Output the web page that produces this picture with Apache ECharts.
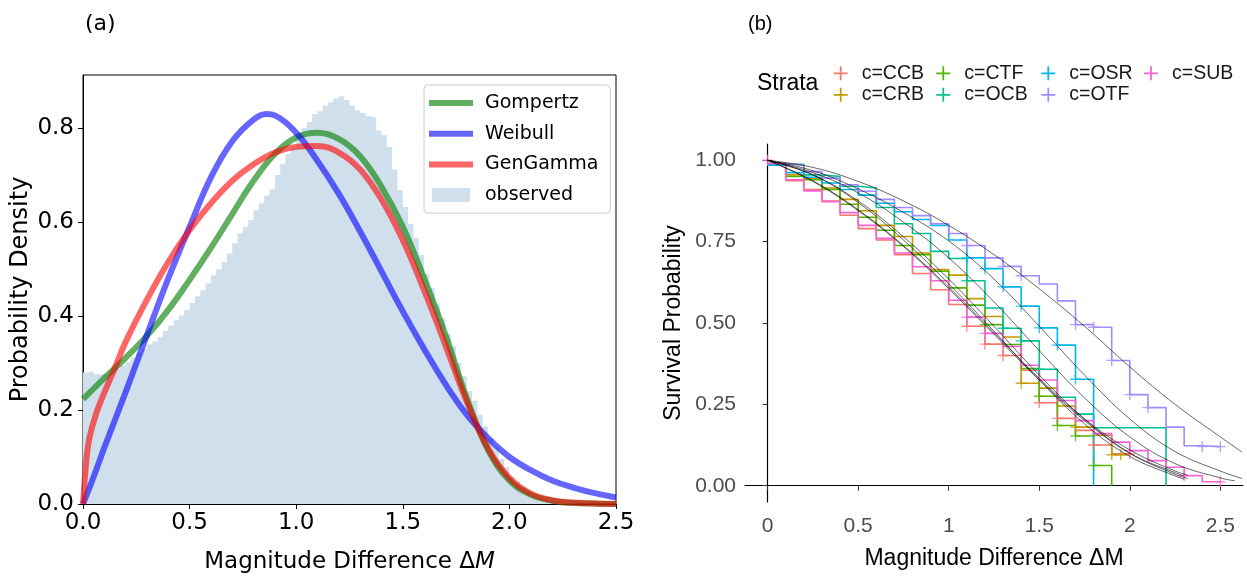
<!DOCTYPE html>
<html><head><meta charset="utf-8">
<script src="https://cdn.jsdelivr.net/npm/echarts@6/dist/echarts.min.js"></script>
<style>html,body{margin:0;padding:0;background:#fff}#c{width:1247px;height:579px}</style>
</head><body><div id="c"></div>
<script>
// ================= Panel (a) data =================
const histBinWidth = 0.025;
const histDensity = [
0.280,0.283,0.276,0.276,0.278,0.282,0.288,0.295,0.303,0.312,
0.322,0.330,0.340,0.346,0.355,0.368,0.380,0.391,0.401,0.413,
0.428,0.442,0.455,0.470,0.487,0.499,0.515,0.533,0.555,0.576,
0.590,0.604,0.625,0.640,0.656,0.670,0.700,0.724,0.745,0.760,
0.782,0.800,0.813,0.830,0.836,0.848,0.855,0.863,0.868,0.860,
0.848,0.838,0.832,0.826,0.822,0.795,0.785,0.760,0.712,0.668,
0.632,0.596,0.566,0.530,0.490,0.460,0.425,0.395,0.362,0.335,
0.300,0.272,0.240,0.220,0.190,0.165,0.140,0.120,0.095,0.078,
0.058,0.048,0.035,0.026,0.018,0.012,0.008,0.005,0.003,0.002,
0.001,0.001,0,0,0,0,0,0,0,0];
const gompertzCurve = [[0,0.223],[0.1,0.268],[0.2,0.311],[0.3,0.358],[0.4,0.413],[0.5,0.477],[0.6,0.545],[0.7,0.617],[0.8,0.688],[0.9,0.745],[1.0,0.78],[1.1,0.79],[1.2,0.777],[1.3,0.74],[1.4,0.675],[1.5,0.59],[1.6,0.48],[1.7,0.36],[1.8,0.225],[1.9,0.115],[2.0,0.05],[2.1,0.02],[2.2,0.007],[2.3,0.002],[2.4,0.001],[2.5,0]];
const weibullCurve = [[0,0],[0.05,0.058],[0.1,0.12],[0.2,0.238],[0.3,0.36],[0.4,0.48],[0.5,0.59],[0.6,0.695],[0.7,0.772],[0.8,0.818],[0.86,0.83],[0.9,0.827],[1.0,0.79],[1.1,0.73],[1.2,0.66],[1.3,0.58],[1.4,0.495],[1.5,0.41],[1.6,0.33],[1.7,0.255],[1.8,0.19],[1.9,0.14],[2.0,0.1],[2.1,0.072],[2.2,0.05],[2.3,0.035],[2.4,0.023],[2.5,0.014]];
const genGammaCurve = [[0,0],[0.015,0.09],[0.03,0.14],[0.06,0.19],[0.1,0.237],[0.15,0.29],[0.2,0.345],[0.3,0.435],[0.4,0.515],[0.5,0.583],[0.6,0.64],[0.7,0.688],[0.8,0.723],[0.9,0.748],[1.0,0.76],[1.1,0.762],[1.2,0.748],[1.3,0.712],[1.4,0.648],[1.5,0.562],[1.6,0.455],[1.7,0.338],[1.8,0.218],[1.9,0.118],[2.0,0.055],[2.1,0.022],[2.2,0.008],[2.3,0.003],[2.4,0.001],[2.5,0]];
const aXTicks = [0,0.5,1.0,1.5,2.0,2.5];
const aYTicks = [0,0.2,0.4,0.6,0.8];

// ================= Panel (b) data =================
const strata = ['c=CCB','c=CRB','c=CTF','c=OCB','c=OSR','c=OTF','c=SUB'];
const kmTimes = [0,0.1,0.2,0.3,0.4,0.5,0.6,0.7,0.8,0.9,1.0,1.1,1.2,1.3,1.4,1.5,1.6,1.7,1.8,1.9,2.0,2.1,2.2,2.3,2.4,2.5];
const kmCCB = [0.985,0.937,0.91,0.875,0.831,0.79,0.755,0.71,0.652,0.602,0.557,0.49,0.435,0.40,0.355,0.255,0.207,0.17,0.125,0.098,0.098];
const kmCRB = [0.99,0.955,0.945,0.915,0.88,0.845,0.80,0.766,0.715,0.664,0.647,0.575,0.52,0.457,0.315,0.30,0.245,0.18,0.155,0.095,0.095];
const kmCTF = [0.99,0.95,0.94,0.91,0.865,0.825,0.785,0.738,0.71,0.659,0.608,0.555,0.495,0.434,0.36,0.275,0.185,0.153,0.062,0];
const kmOCB = [0.988,0.988,0.955,0.95,0.92,0.915,0.855,0.805,0.775,0.72,0.698,0.63,0.546,0.484,0.445,0.358,0.272,0.22,0.178,0.178,0.178,0.178,0];
const kmOSR = [0.985,0.962,0.948,0.93,0.91,0.893,0.868,0.842,0.818,0.80,0.755,0.70,0.667,0.611,0.552,0.485,0.432,0.327,0];
const kmOTF = [0.99,0.985,0.965,0.945,0.925,0.905,0.88,0.855,0.83,0.805,0.775,0.738,0.70,0.674,0.645,0.62,0.568,0.495,0.487,0.385,0.28,0.24,0.18,0.123,0.12,0.12];
const kmSUB = [0.99,0.94,0.906,0.873,0.839,0.80,0.76,0.715,0.673,0.63,0.57,0.518,0.468,0.428,0.37,0.325,0.262,0.20,0.16,0.134,0.108,0.077,0.057,0.031,0.012,0.012];

const censCCB = [[1.1,0.49],[1.2,0.435],[1.3,0.40],[1.5,0.255],[1.6,0.207],[1.8,0.125],[2.0,0.098]];
const censCRB = [[1.4,0.315],[1.7,0.18],[1.9,0.095],[1.95,0.095]];
const censCTF = [[1.2,0.495],[1.5,0.275],[1.6,0.185],[1.7,0.153],[1.8,0.062]];
const censOCB = [[1.1,0.63],[1.3,0.484],[1.4,0.445],[1.5,0.358]];
const censOSR = [[1.1,0.70],[1.2,0.667],[1.3,0.611],[1.4,0.552],[1.5,0.485],[1.6,0.432],[1.7,0.327]];
const censOTF = [[1.1,0.738],[1.3,0.674],[1.4,0.645],[1.7,0.495],[1.8,0.487],[1.9,0.385],[2.0,0.28],[2.1,0.24],[2.4,0.12],[2.5,0.12]];
const censSUB = [[0,1.0],[1.1,0.518],[1.2,0.468],[2.0,0.108],[2.3,0.031],[2.5,0.012]];

const fitCCB = [[0,1],[0.25,0.935],[0.5,0.845],[0.75,0.735],[1.0,0.605],[1.25,0.465],[1.5,0.325],[1.75,0.2],[2.0,0.1],[2.25,0.04],[2.3,0.03]];
const fitCRB = [[0,1],[0.25,0.955],[0.5,0.875],[0.75,0.765],[1.0,0.635],[1.25,0.49],[1.5,0.34],[1.75,0.205],[2.0,0.1],[2.25,0.035],[2.32,0.022]];
const fitCTF = [[0,1],[0.25,0.955],[0.5,0.87],[0.75,0.755],[1.0,0.62],[1.25,0.475],[1.5,0.325],[1.75,0.19],[2.0,0.09],[2.25,0.03],[2.3,0.02]];
const fitOCB = [[0,1],[0.25,0.962],[0.5,0.9],[0.75,0.81],[1.0,0.70],[1.25,0.565],[1.5,0.415],[1.75,0.27],[2.0,0.15],[2.25,0.068],[2.5,0.024],[2.58,0.015]];
const fitOSR = [[0,1],[0.25,0.968],[0.5,0.912],[0.75,0.84],[1.0,0.752],[1.25,0.635],[1.5,0.49],[1.75,0.34],[2.0,0.205],[2.25,0.105],[2.5,0.045],[2.62,0.022]];
const fitOTF = [[0,1],[0.25,0.978],[0.5,0.935],[0.75,0.875],[1.0,0.80],[1.25,0.71],[1.5,0.605],[1.75,0.49],[2.0,0.365],[2.25,0.25],[2.5,0.15],[2.62,0.103]];
const fitSUB = [[0,1],[0.25,0.937],[0.5,0.848],[0.75,0.738],[1.0,0.61],[1.25,0.47],[1.5,0.33],[1.75,0.205],[2.0,0.11],[2.25,0.045],[2.32,0.033]];
const bXTicks = [0,0.5,1,1.5,2,2.5];
const bYTicks = [0,0.25,0.5,0.75,1];

// ================= build =================
const strataColors = ['#F8766D','#C49A00','#53B400','#00C094','#00B6EB','#A58AFF','#FB61D7'];
const kmAll = [kmCCB,kmCRB,kmCTF,kmOCB,kmOSR,kmOTF,kmSUB];
const censAll = [censCCB,censCRB,censCTF,censOCB,censOSR,censOTF,censSUB];
const fitAll = [fitCCB,fitCRB,fitCTF,fitOCB,fitOSR,fitOTF,fitSUB];
const plusPath = 'path://M7,0h2v16h-2z M0,7h16v2h-16z';

const histData = histDensity.map((v,i)=>[+(i*histBinWidth).toFixed(3), v]);
histData.push([+(histDensity.length*histBinWidth).toFixed(3), histDensity[histDensity.length-1]]);

const FA = 'DejaVu Sans';
const FB = 'Liberation Sans';
const series = [];
series.push({name:'observed', type:'line', xAxisIndex:0, yAxisIndex:0, step:'end', data:histData,
  symbol:'none', color:'#cfdfeb', lineStyle:{width:0}, areaStyle:{color:'#cfdfeb', opacity:1}, z:1, silent:true});
series.push({name:'Gompertz', type:'line', xAxisIndex:0, yAxisIndex:0, smooth:0.4, data:gompertzCurve,
  symbol:'none', color:'rgba(0,128,0,0.62)', lineStyle:{width:6, color:'rgba(0,128,0,0.62)'}, z:2});
series.push({name:'Weibull', type:'line', xAxisIndex:0, yAxisIndex:0, smooth:0.4, data:weibullCurve,
  symbol:'none', color:'rgba(0,0,255,0.6)', lineStyle:{width:6, color:'rgba(0,0,255,0.6)'}, z:3});
series.push({name:'GenGamma', type:'line', xAxisIndex:0, yAxisIndex:0, smooth:0.4, data:genGammaCurve,
  symbol:'none', color:'rgba(255,0,0,0.6)', lineStyle:{width:6, color:'rgba(255,0,0,0.6)'}, z:4});

strata.forEach((name,k)=>{
  const vals = kmAll[k];
  series.push({name:name, type:'line', xAxisIndex:1, yAxisIndex:1, step:'end', symbol:'none',
    data: vals.map((v,i)=>[kmTimes[i], v]), color:strataColors[k],
    lineStyle:{width:1.6, color:strataColors[k]}, z:2});
  series.push({name:name+' censor', type:'scatter', xAxisIndex:1, yAxisIndex:1, symbol:plusPath, symbolSize:11,
    data: censAll[k], itemStyle:{color:strataColors[k]}, z:3});
  series.push({name:name+' fit', type:'line', xAxisIndex:1, yAxisIndex:1, smooth:0.4, symbol:'none',
    data: fitAll[k], lineStyle:{width:0.8, color:'rgba(0,0,0,0.75)'}, z:5});
});

const legendCols = [['c=CCB','c=CRB'],['c=CTF','c=OCB'],['c=OSR','c=OTF'],['c=SUB']];
const legendLefts = [833.7, 936.3, 1041.3, 1144];
const legends = [{
  left:424, top:85, orient:'vertical', selectedMode:false,
  backgroundColor:'rgba(255,255,255,0.85)', borderColor:'#cccccc', borderWidth:1, borderRadius:4,
  padding:[7,12,7,5], itemWidth:44, itemHeight:14, itemGap:8.7,
  itemStyle:{borderWidth:0},
  textStyle:{fontFamily:FA, fontSize:19, color:'#000', lineHeight:22, padding:[0,0,0,7]},
  data:[
    {name:'Gompertz', icon:'path://M0,0h44v6h-44z', itemStyle:{color:'rgba(0,128,0,0.62)'}},
    {name:'Weibull', icon:'path://M0,0h44v6h-44z', itemStyle:{color:'rgba(0,0,255,0.6)'}},
    {name:'GenGamma', icon:'path://M0,0h44v6h-44z', itemStyle:{color:'rgba(255,0,0,0.6)'}},
    {name:'observed', icon:'path://M0,0h38v14h-38z', itemStyle:{color:'#cfdfeb'}}
  ]
}];
legendCols.forEach((col,c)=>{
  legends.push({left:legendLefts[c], top:62.5, orient:'vertical', selectedMode:false, padding:0,
    itemWidth:14, itemHeight:14, itemGap:0, itemStyle:{borderWidth:0},
    textStyle:{fontFamily:FB, fontSize:19.5, color:'#1a1a1a', lineHeight:21.5, padding:[0,0,0,9]},
    data: col.map(n=>({name:n, icon:plusPath, itemStyle:{color:strataColors[strata.indexOf(n)]}}))});
});

const option = {
  animation:false,
  backgroundColor:'#ffffff',
  title:[
    {text:'(a)', left:85, top:13, padding:0, textStyle:{fontFamily:FA, fontSize:22, fontWeight:'normal', color:'#000'}},
    {text:'(b)', left:748, top:14, padding:0, textStyle:{fontFamily:FB, fontSize:20, fontWeight:'normal', color:'#000'}},
    {text:'Strata', left:757, top:72, padding:0, textStyle:{fontFamily:FB, fontSize:23, fontWeight:'normal', color:'#000'}}
  ],
  legend: legends,
  grid:[
    {left:83, right:631, top:75, bottom:74, show:true, borderColor:'#000', borderWidth:1, backgroundColor:'transparent'},
    {left:745, right:4, top:144, bottom:77}
  ],
  xAxis:[
    {type:'value', gridIndex:0, min:0, max:2.5, interval:0.5,
     axisLine:{show:true, lineStyle:{color:'#000', width:1}}, splitLine:{show:false},
     axisTick:{show:true, length:5, inside:false, lineStyle:{color:'#000'}, customValues:aXTicks},
     axisLabel:{fontFamily:FA, fontSize:23, color:'#000', margin:8, customValues:aXTicks, formatter:v=>v.toFixed(1)},
     name:'{a|Magnitude Difference Δ}{b|M}', nameLocation:'middle', nameGap:47,
     nameTextStyle:{rich:{a:{fontFamily:FA, fontSize:23, color:'#000'}, b:{fontFamily:FA, fontSize:23, fontStyle:'italic', color:'#000'}}}},
    {type:'value', gridIndex:1, min:-0.125, max:2.625,
     axisLine:{show:true, lineStyle:{color:'#000', width:1.2}}, splitLine:{show:false},
     axisTick:{show:true, length:5, lineStyle:{color:'#333'}, customValues:bXTicks},
     axisLabel:{fontFamily:FB, fontSize:21, color:'#4d4d4d', margin:14, customValues:bXTicks, formatter:v=>String(v)},
     name:'Magnitude Difference ΔM', nameLocation:'middle', nameGap:45,
     nameTextStyle:{fontFamily:FB, fontSize:23, color:'#000'}}
  ],
  yAxis:[
    {type:'value', gridIndex:0, min:0, max:0.913, interval:0.2,
     axisLine:{show:true, lineStyle:{color:'#000', width:1}}, splitLine:{show:false},
     axisTick:{show:true, length:5, lineStyle:{color:'#000'}, customValues:aYTicks},
     axisLabel:{fontFamily:FA, fontSize:23, color:'#000', margin:9, customValues:aYTicks, formatter:v=>v.toFixed(1)},
     name:'Probability Density', nameLocation:'middle', nameGap:50,
     nameTextStyle:{fontFamily:FA, fontSize:24, color:'#000'}},
    {type:'value', gridIndex:1, min:-0.05, max:1.05,
     axisLine:{show:true, lineStyle:{color:'#000', width:1.2}}, splitLine:{show:false},
     axisTick:{show:true, length:5, lineStyle:{color:'#333'}, customValues:bYTicks},
     axisLabel:{fontFamily:FB, fontSize:21, color:'#4d4d4d', margin:9, customValues:bYTicks, formatter:v=>v.toFixed(2)},
     name:'Survival Probability', nameLocation:'middle', nameGap:60,
     nameTextStyle:{fontFamily:FB, fontSize:23, color:'#000'}}
  ],
  series: series
};
const chart = echarts.init(document.getElementById('c'), null, {renderer:'canvas'});
chart.setOption(option);
</script></body></html>
